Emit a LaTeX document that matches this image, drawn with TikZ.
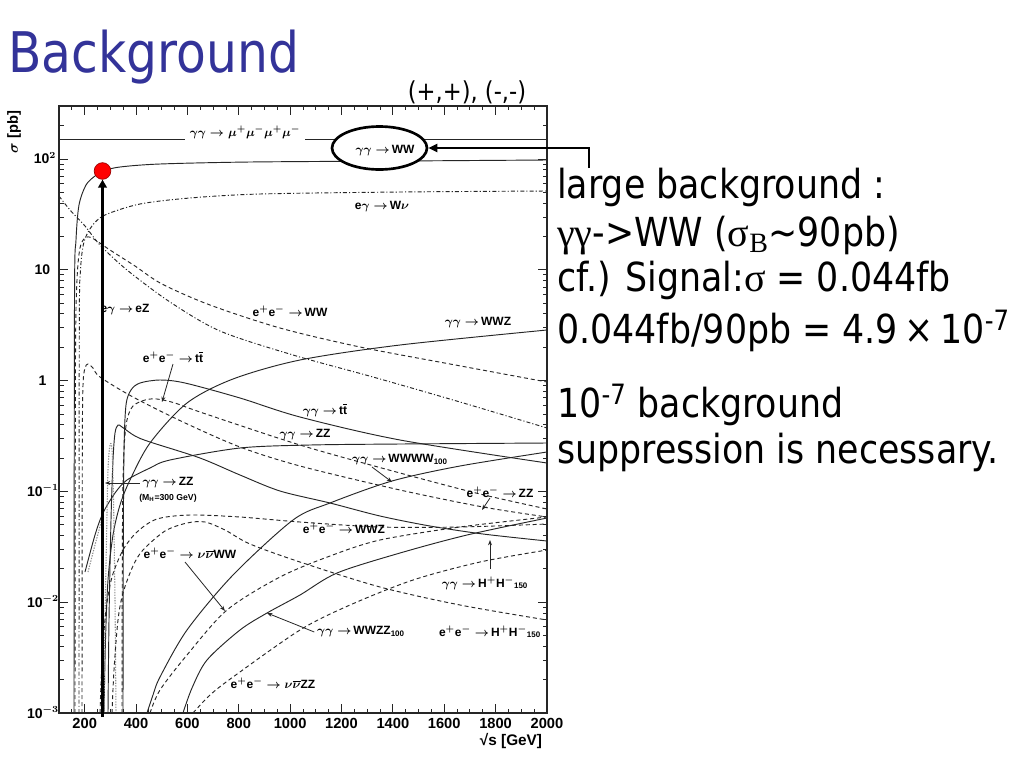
\documentclass[tikz,border=0pt]{standalone}
\usepackage{fontspec}
\setmainfont{DejaVu Sans}[FakeStretch=0.87]
\newfontfamily\grk{Liberation Serif}
\newfontfamily\plotfont{Liberation Sans}
\usetikzlibrary{arrows.meta,shapes.geometric}
\definecolor{titleblue}{RGB}{51,51,153}
\begin{document}
\begin{tikzpicture}[x=0.75pt,y=-0.75pt,
  curve/.style={black!85, line width=0.7pt},
  dsh/.style={curve, dash pattern=on 3pt off 2.2pt},
  dshdot/.style={curve, dash pattern=on 3pt off 1.6pt on 0.8pt off 1.6pt},
  dotg/.style={black!45, line width=0.8pt, dash pattern=on 1pt off 1pt},
  lab/.style={font=\plotfont\bfseries\boldmath\fontsize{9}{10}\selectfont, inner sep=0pt},
  tlab/.style={font=\plotfont\bfseries\boldmath\fontsize{10.5}{12}\selectfont, inner sep=0pt},
  body/.style={font=\fontsize{30}{36}\selectfont, anchor=base west, inner sep=0pt},
  ptr/.style={black!85, line width=0.6pt, -{Stealth[length=4pt,width=3pt]}},
  tick/.style={black!85, line width=0.6pt}
]
\useasboundingbox (0,0) rectangle (1024,768);
\fill[white] (0,0) rectangle (1024,768);

% title
\node[font=\fontsize{42}{50}\selectfont, text=titleblue, anchor=base west, inner sep=0pt] (title) at (8,72) {Background};
\node[font=\fontsize{19.5}{22}\selectfont, inner sep=0pt] (pol) at (467,92) {(+,+), (-,-)};

% curves
\begin{scope}
\clip (59,106) rectangle (547,713);
% gg -> mumumumu
\draw[curve] (59,139) -- (185,139);
\draw[curve] (305,139) -- (547,139);
% gg -> WW
\draw[curve] plot[smooth,tension=0.5] coordinates {(74,713) (74.5,300) (76,240) (79,205) (86,185) (95,176) (103,171) (120,167) (160,164) (250,162) (400,161) (547,160)};
% e gamma -> W nu
\draw[dshdot] plot[smooth,tension=0.5] coordinates {(79,713) (79.3,330) (80.5,270) (84,242) (92,226) (105,215) (140,204) (190,198) (260,194) (400,192) (547,191)};
% e gamma -> eZ
\draw[dshdot] plot[smooth,tension=0.5] coordinates {(59,196) (70,210) (85,226) (100,245) (127,270) (170,302) (220,331) (293,355) (373,377) (460,402) (547,428)};
% ee -> WW
\draw[dsh] plot[smooth,tension=0.5] coordinates {(75,713) (75.5,360) (77,280) (80,248) (85,238) (92,238) (110,250) (135,266) (162,284) (210,305) (280,328) (360,347) (450,364) (547,382)};
% gg -> WWZ
\draw[curve] plot[smooth,tension=0.5] coordinates {(104,713) (105.5,640) (108,580) (113,535) (120,505) (130,480) (150,443) (187,403) (233,379) (300,360) (400,345) (547,330)};
% gg -> tt
\draw[curve] plot[smooth,tension=0.5] coordinates {(123,713) (123.3,550) (124,450) (126,405) (131,390) (140,383) (160,380) (185,383) (240,398) (300,417) (400,440) (547,463)};
% gg -> H+H-
\draw[curve] plot[smooth,tension=0.5] coordinates {(108,713) (109,620) (111,520) (113,460) (115,433) (118,425) (122,427) (135,436) (150,442) (200,458) (240,475) (280,491) (330,503) (380,516) (430,526) (483,534) (547,541)};
% gg -> ZZ continuum
\draw[curve] plot[smooth,tension=0.5] coordinates {(85,572) (95,535) (103,513) (115,493) (127,480) (150,468) (170,460) (240,448) (310,445) (400,444) (547,443)};
% gg -> ZZ resonance (MH=300)
\draw[dotg] plot[smooth,tension=0.5] coordinates {(104,713) (105,620) (106.5,540) (108,470) (110,445) (112,450) (113.5,500) (115,600) (116,713)};
\draw[dotg] plot[smooth,tension=0.5] coordinates {(88,572) (95,545) (103,515)};
% ee -> ZZ
\draw[dsh] plot[smooth,tension=0.5] coordinates {(82,713) (82.3,450) (83,385) (85,368) (88,364) (93,368) (100,377) (133,397) (183,422) (240,447) (300,466) (400,490) (483,507) (547,517)};
% ee -> tt
\draw[dsh] plot[smooth,tension=0.5] coordinates {(122,713) (122.5,520) (124,450) (127,420) (133,406) (145,400) (157,399) (175,403) (200,412) (300,445) (400,473) (480,494) (547,509)};
% ee -> WWZ
\draw[dsh] plot[smooth,tension=0.5] coordinates {(100,713) (102,660) (106,610) (112,577) (123,550) (137,532) (157,519) (190,515) (240,517) (300,522) (380,527) (460,527) (547,524)};
% ee -> H+H-
\draw[dsh] plot[smooth,tension=0.5] coordinates {(112,713) (114,670) (118,620) (123,593) (133,566) (143,550) (165,531) (187,523) (205,522) (225,530) (250,544) (300,562) (380,587) (460,605) (547,620)};
% ee -> nunu WW
\draw[dsh] plot[smooth,tension=0.5] coordinates {(150,713) (160,690) (187,655) (227,610) (280,577) (330,556) (380,540) (460,527) (547,517)};
% ee -> nunu ZZ
\draw[dsh] plot[smooth,tension=0.5] coordinates {(193,713) (210,695) (233,677) (300,630) (350,605) (413,580) (480,562) (547,550)};
% gg -> WWWW
\draw[curve] plot[smooth,tension=0.5] coordinates {(147,713) (153,695) (160,677) (187,630) (233,575) (293,520) (330,503) (392,481) (460,466) (547,452)};
% gg -> WWZZ
\draw[curve] plot[smooth,tension=0.5] coordinates {(183,713) (192,688) (207,660) (240,630) (267,613) (300,595) (337,573) (400,553) (467,535) (547,518)};
\end{scope}

% frame
\draw[line width=1.1pt, black!85] (59,106) rectangle (547,713);

% x ticks
\foreach \s in {150,200,...,1950} {
  \pgfmathsetmacro\xx{33.32+0.2568*\s}
  \draw[tick] (\xx,713) -- (\xx,709);
  \draw[tick] (\xx,106) -- (\xx,110);
}
\foreach \s in {200,400,...,1800} {
  \pgfmathsetmacro\xx{33.32+0.2568*\s}
  \draw[tick] (\xx,713) -- (\xx,704);
  \draw[tick] (\xx,106) -- (\xx,115);
}
\foreach \s in {200,400,...,2000} {
  \pgfmathsetmacro\xx{33.32+0.2568*\s}
  \node[tlab, font=\plotfont\bfseries\fontsize{11}{12}\selectfont, anchor=north] (xt\s) at (\xx,718) {\s};
}
% y ticks
\foreach \d in {-3,...,2} {
  \pgfmathsetmacro\yy{380.6-110.8*\d}
  \draw[tick] (59,\yy) -- (68,\yy);
  \draw[tick] (547,\yy) -- (538,\yy);
  \foreach \m in {2,...,9} {
    \pgfmathsetmacro\ym{380.6-110.8*(\d+ln(\m)/ln(10))}
    \ifdim\ym pt>108pt
      \draw[tick] (59,\ym) -- (63.5,\ym);
      \draw[tick] (547,\ym) -- (542.5,\ym);
    \fi
  }
}
\node[tlab, anchor=base] (y2) at (45,163.5) {10$^{2}$};
\node[tlab, anchor=base] (y1) at (42.5,274.5) {10};
\node[tlab, anchor=base] (y0) at (42.5,385) {1};
\node[tlab, anchor=base] (ym1) at (43,496) {10$^{-1}$};
\node[tlab, anchor=base] (ym2) at (43,607) {10$^{-2}$};
\node[tlab, anchor=base] (ym3) at (43,718) {10$^{-3}$};
\node[tlab, font=\plotfont\bfseries\boldmath\fontsize{11}{12}\selectfont, rotate=90] (ylab) at (14,132) {$\sigma$ [pb]};
\node[tlab, font=\plotfont\bfseries\fontsize{11.5}{12}\selectfont] (xlab) at (511,741) {√s [GeV]};

% curve labels
\node[lab] (lmu) at (245,132) {$\gamma\gamma\rightarrow\mu^+\mu^-\mu^+\mu^-$};
\node[draw, line width=2pt, fill=white, ellipse, minimum width=71.25pt, minimum height=32.25pt, inner sep=0pt] (ww) at (379.5,148) {};
\node[lab] (lww) at (385,151) {$\gamma\gamma\rightarrow$\,WW};
\node[lab] (lwnu) at (382,207) {e$\gamma\rightarrow$\,W$\nu$};
\node[lab] (lez) at (125,310) {e$\gamma\rightarrow$\,eZ};
\node[lab] (leeww) at (290,311) {e$^+$e$^-\rightarrow$\,WW};
\node[lab] (lwwz) at (478,323) {$\gamma\gamma\rightarrow$\,WWZ};
\node[lab] (leett) at (173,357) {e$^+$e$^-\rightarrow$\,t$\overline{\hbox{t}}$};
\node[lab] (lggtt) at (325,410) {$\gamma\gamma\rightarrow$\,t$\overline{\hbox{t}}$};
\node[lab] (lggzz) at (305,435) {$\gamma\gamma\rightarrow$\,ZZ};
\node[lab] (lwwww) at (400,460) {$\gamma\gamma\rightarrow$\,WWWW\textsubscript{100}};
\node[lab] (leezz) at (500,492) {e$^+$e$^-\rightarrow$\,ZZ};
\node[lab] (lzzh) at (168,483) {$\gamma\gamma\rightarrow$\,ZZ};
\node[lab, font=\plotfont\bfseries\fontsize{6.5}{7}\selectfont] (lmh) at (168,498) {(M\textsubscript{H}=300 GeV)};
\node[lab] (leewwz) at (344,528) {e$^+$e$^-\rightarrow$\,WWZ};
\node[lab] (lnnww) at (190,553) {e$^+$e$^-\rightarrow\nu\overline{\nu}$WW};
\node[lab] (lhh) at (485,583) {$\gamma\gamma\rightarrow$\,H$^+$H$^-$\textsubscript{150}};
\node[lab] (lwwzz) at (361,632) {$\gamma\gamma\rightarrow$\,WWZZ\textsubscript{100}};
\node[lab] (leehh) at (490,632) {e$^+$e$^-\rightarrow$\,H$^+$H$^-$\textsubscript{150}};
\node[lab] (lnnzz) at (273,683) {e$^+$e$^-\rightarrow\nu\overline{\nu}$ZZ};

% label pointers
\coordinate (ptt) at (162,402);
\coordinate (pwwww) at (392,482);
\coordinate (pzz) at (482,510);
\coordinate (pzzh) at (105,483);
\coordinate (pnnww) at (225,611);
\coordinate (phh) at (490,540);
\coordinate (pwwzz) at (267,613);
\draw[ptr] ([yshift=-1pt]leett.south) -- (ptt);
\draw[ptr] (372,467) -- (pwwww);
\draw[ptr] (490,498) -- (pzz);
\draw[ptr] ([xshift=-2pt]lzzh.west) -- (pzzh);
\draw[ptr] (185,562) -- (pnnww);
\draw[ptr] (490,569) -- (phh);
\draw[ptr] ([xshift=-2pt]lwwzz.west) -- (pwwzz);

% red dot and arrow
\node[circle, fill=red, draw=red!60!black, line width=0.5pt, minimum size=12.5pt, inner sep=0pt] (dot) at (102.5,171) {};
\coordinate (abase) at (102.5,717);
\draw[line width=2.25pt, -{Triangle[length=6pt,width=6.5pt]}] (abase) -- (dot.south);

% right text
\node[body] (t1) at (557,198) {large background :};
\node[body] (t2) at (557,246) {{\grk γγ}->WW ({\grk σ\textsubscript{B}}∼90pb)};
\node[body] (t3) at (557,291) {cf.) Signal:{\grk σ} = 0.044fb};
\node[body] (t4) at (557,343) {0.044fb/90pb = 4.9\,×\,10\textsuperscript{-7}};
\node[body] (t5) at (557,417) {10\textsuperscript{-7} background};
\node[body] (t6) at (557,463) {suppression is necessary.};

\coordinate (c1) at (589,168);
\draw[line width=1.9pt, -{Triangle[length=6.75pt,width=6pt]}] (c1) |- (ww.east);
\end{tikzpicture}
\end{document}
